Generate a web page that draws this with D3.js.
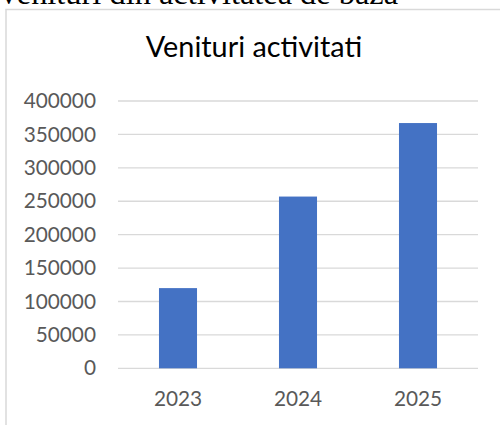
<!DOCTYPE html>
<html>
<head>
<meta charset="utf-8">
<script src="https://cdn.jsdelivr.net/npm/d3@7"></script>
<style>
  html, body { margin: 0; padding: 0; background: #fff; }
  svg { display: block; }
</style>
</head>
<body>
<script>
const pageHeading = "Venituri din activitatea de baza";
const chartTitle = "Venituri activitati";
const categories = ["2023", "2024", "2025"];
const values = [120000, 257000, 367000];
const yTicks = [0, 50000, 100000, 150000, 200000, 250000, 300000, 350000, 400000];

const W = 500, H = 425;
const svg = d3.select("body").append("svg").attr("width", W).attr("height", H);

// page heading (cut off at top, as in the source)
svg.append("text")
  .attr("x", -3).attr("y", 3.5)
  .attr("font-family", "'Liberation Serif', 'Times New Roman', serif")
  .attr("font-size", 32.4)
  .attr("fill", "#000")
  .text(pageHeading);

// chart area border
svg.append("rect")
  .attr("x", 6).attr("y", 9.5)
  .attr("width", 520).attr("height", 440)
  .attr("fill", "#fff")
  .attr("stroke", "#d9d9d9")
  .attr("stroke-width", 1.5);

// title
svg.append("text")
  .attr("x", 254).attr("y", 56.5)
  .attr("text-anchor", "middle")
  .attr("font-family", "Lato, 'Open Sans', sans-serif")
  .attr("font-size", 28.8)
  .attr("fill", "#000")
  .text(chartTitle);

const x = d3.scaleBand().domain(categories).range([118, 478])
  .paddingInner(0.683).paddingOuter(0.3415);
const y = d3.scaleLinear().domain([0, 400000]).range([368.3, 101]);

// gridlines
svg.append("g").selectAll("line").data(yTicks).join("line")
  .attr("x1", 118).attr("x2", 478)
  .attr("y1", d => y(d)).attr("y2", d => y(d))
  .attr("stroke", "#d9d9d9").attr("stroke-width", 1.3);

// y axis labels
const yAxis = d3.axisLeft(y).tickValues(yTicks).tickSize(0).tickPadding(0)
  .tickFormat(d3.format("d"));
const gy = svg.append("g").attr("transform", "translate(96,0)").call(yAxis);
gy.select(".domain").remove();
gy.selectAll("text")
  .attr("font-family", "Lato, 'Open Sans', sans-serif")
  .attr("font-size", 20.8)
  .attr("fill", "#595959");

// bars
svg.append("g").selectAll("rect").data(categories).join("rect")
  .attr("x", d => x(d))
  .attr("y", (d, i) => y(values[i]))
  .attr("width", x.bandwidth())
  .attr("height", (d, i) => y(0) - y(values[i]))
  .attr("fill", "#4472c4");

// x axis labels
const xAxis = d3.axisBottom(x).tickSize(0).tickPadding(0);
const gx = svg.append("g").attr("transform", "translate(0,391)").call(xAxis);
gx.select(".domain").remove();
gx.selectAll("text")
  .attr("dy", "0.71em")
  .attr("font-family", "Lato, 'Open Sans', sans-serif")
  .attr("font-size", 20.8)
  .attr("fill", "#595959");
</script>
</body>
</html>
